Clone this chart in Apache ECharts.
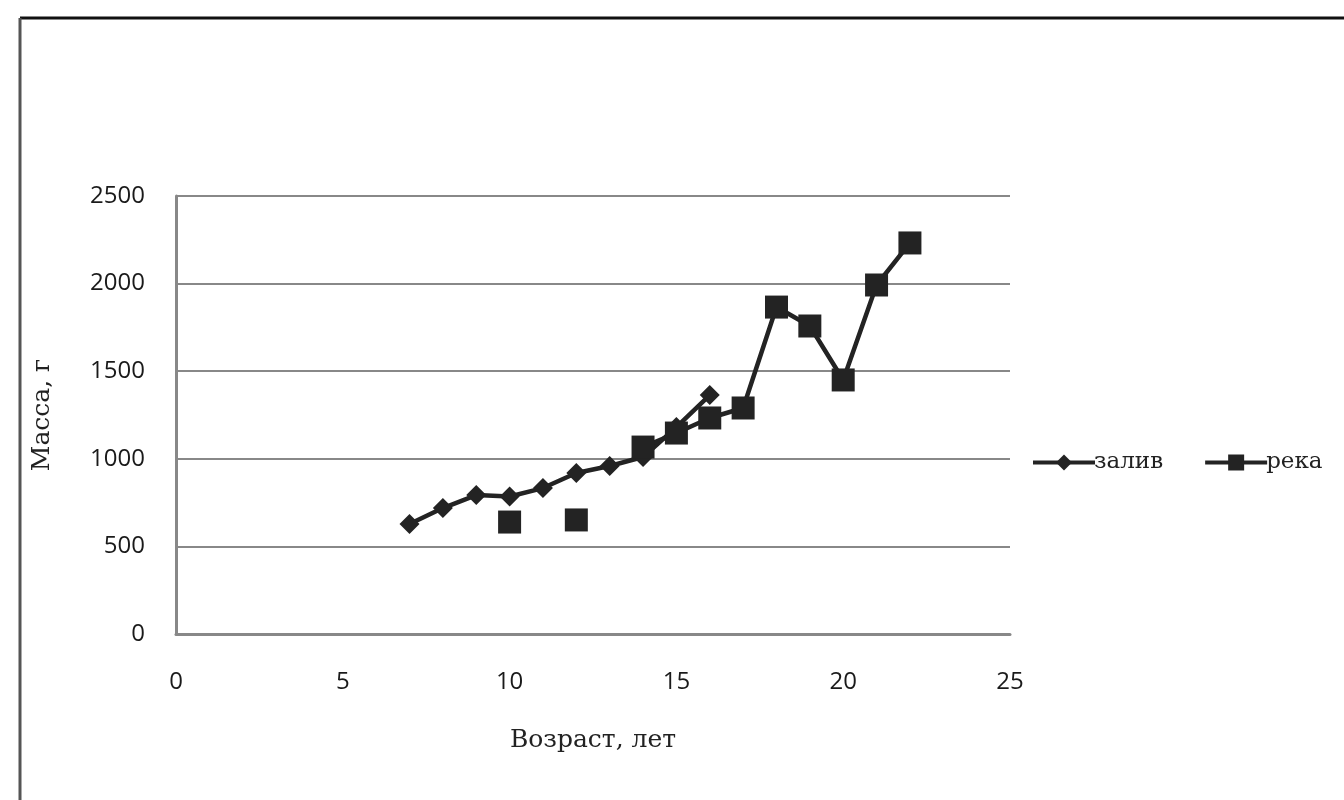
<!DOCTYPE html>
<html>
<head>
<meta charset="utf-8">
<script src="https://cdn.jsdelivr.net/npm/echarts@6/dist/echarts.min.js"></script>
<style>
  html, body { margin: 0; padding: 0; background: #fff; }
  #chart { width: 1344px; height: 800px; }
</style>
</head>
<body>
<div id="chart"></div>
<script>
  // Age (years) and mass (g)
  var ages = [7, 8, 9, 10, 11, 12, 13, 14, 15, 16, 17, 18, 19, 20, 21, 22];
  var bayMass = [628, 719, 793, 785, 833, 919, 959, 1010, 1181, 1364, null, null, null, null, null, null];
  var riverMass = [null, null, null, 639, null, 651, null, 1067, 1147, 1233, 1290, 1866, 1758, 1450, 1992, 2232];
  var yTicks = [0, 500, 1000, 1500, 2000, 2500];

  var INK = "#232323";
  var GRID = "#888888";
  var SERIF = "'DejaVu Serif', 'Liberation Serif', serif";
  var SANS = "'Open Sans', 'Noto Sans', sans-serif";

  function pairs(values) {
    return ages.map(function(a, i) {
      return [a, values[i]];
    });
  }

  // plain numbers, no thousands separator
  function plain(v) {
    return String(v);
  }

  var chart = echarts.init(document.getElementById("chart"), null, { renderer: "canvas" });

  chart.setOption({
    animation: false,
    backgroundColor: "#fff",
    graphic: [
      { type: "line", shape: { x1: 20, y1: 18, x2: 1344, y2: 18 }, style: { stroke: "#111", lineWidth: 3 } },
      { type: "line", shape: { x1: 20, y1: 18, x2: 20, y2: 800 }, style: { stroke: "#555", lineWidth: 3 } }
    ],
    grid: { left: 176, top: 196, width: 834, height: 438 },
    legend: {
      left: 1026,
      top: 446,
      itemWidth: 62,
      itemHeight: 20,
      itemGap: 40,
      lineStyle: { width: 4 },
      textStyle: { fontFamily: SERIF, fontSize: 23, color: "#222", padding: [0, 0, 0, -6] },
      data: ["залив", "река"]
    },
    xAxis: {
      type: "value",
      min: 0,
      max: 25,
      interval: 5,
      name: "Возраст, лет",
      nameLocation: "middle",
      nameGap: 94,
      nameTextStyle: { fontFamily: SERIF, fontSize: 25, color: "#222" },
      axisLine: { show: true, lineStyle: { color: GRID, width: 3 } },
      axisTick: { show: false },
      splitLine: { show: false },
      axisLabel: { margin: 36, fontFamily: SANS, fontSize: 24, color: "#1a1a1a", formatter: plain }
    },
    yAxis: {
      type: "value",
      min: yTicks[0],
      max: yTicks[yTicks.length - 1],
      interval: 500,
      name: "Масса, г",
      nameLocation: "middle",
      nameGap: 121,
      nameTextStyle: { fontFamily: SERIF, fontSize: 25, color: "#222" },
      axisLine: { show: true, lineStyle: { color: GRID, width: 3 } },
      axisTick: { show: false },
      splitLine: { show: true, lineStyle: { color: GRID, width: 2 } },
      axisLabel: { margin: 31, fontFamily: SANS, fontSize: 24, color: "#1a1a1a", formatter: plain }
    },
    series: [
      {
        name: "залив",
        type: "line",
        data: pairs(bayMass),
        symbol: "diamond",
        symbolSize: 20,
        connectNulls: false,
        itemStyle: { color: INK },
        lineStyle: { color: INK, width: 4.5 }
      },
      {
        name: "река",
        type: "line",
        data: pairs(riverMass),
        symbol: "rect",
        symbolSize: 23,
        connectNulls: false,
        itemStyle: { color: INK },
        lineStyle: { color: INK, width: 4.5 }
      }
    ]
  });
</script>
</body>
</html>
